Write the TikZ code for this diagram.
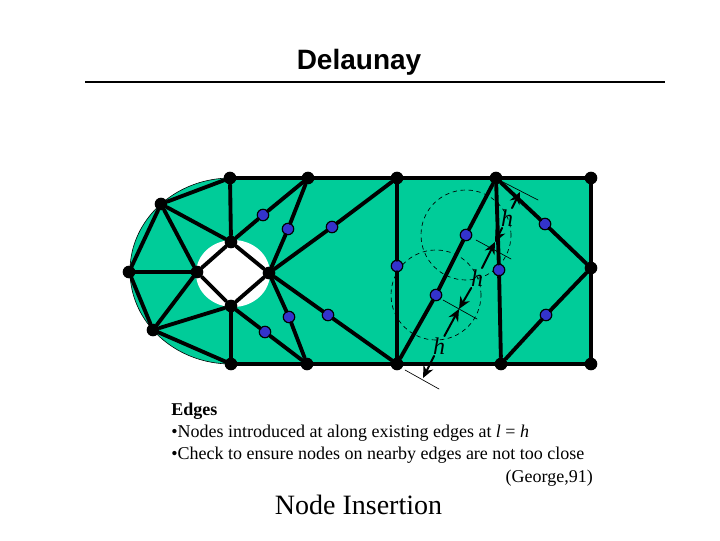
\documentclass[tikz,border=0pt]{standalone}
\usepackage{fontspec}
\usetikzlibrary{arrows.meta}
\setmainfont{Liberation Serif}
\newfontfamily\titlefont{Liberation Sans}
\definecolor{meshgreen}{RGB}{0,204,153}
\definecolor{ptblue}{RGB}{51,51,204}
\begin{document}
\begin{tikzpicture}[x=0.75pt,y=0.75pt,line join=round,line cap=round,>=stealth]
	\tikzset{vtx/.style={circle,fill=black,inner sep=0pt,minimum size=9.5pt},
		bluept/.style={circle,fill=ptblue,draw=black,line width=0.9pt,inner sep=0pt,minimum size=8.6pt},
		edge/.style={line width=2.9pt},
		tick/.style={line width=0.5pt},
		hlabel/.style={font=\fontsize{18}{18}\selectfont\itshape,inner sep=1pt},
		harrow/.style={->,line width=1.5pt,>={Stealth[length=9pt,width=8pt]}},
		txt/.style={font=\fontsize{13.5}{15}\selectfont,inner sep=0pt,anchor=west}}
	\useasboundingbox (0,0) rectangle (720,540);
	% domain
	\fill[meshgreen] (230,362)--(591,362)--(591,176)--(231,176) arc[start angle=270,end angle=90,x radius=101,y radius=93]--cycle;
	\draw[line width=0.45pt] (231,176) arc[start angle=270,end angle=90,x radius=101,y radius=93];
	\fill[white] (233,266.5) ellipse [x radius=37,y radius=33.5];
	% circles of radius h
	\draw[tick,dashed] (466,305) circle (45);
	\draw[tick,dashed] (436,245) circle (45);
	% mesh nodes
	\foreach \nm/\x/\y in {top1/230/362,top2/308/362,top3/397/362,top4/496/362,top5/591/362,
		rmid/591/272,bot5/591/176,bot4/501/176,bot3/397/176,bot2/307/176,bot1/231/176,
		lft1/161/336,lft2/129/268,lft3/153/210,
		ht/231/298,hl/197/268,hr/269/267,hb/231/234}
	\node[vtx] (\nm) at (\x,\y) {};
	\foreach \nm/\x/\y in {p1/263/325,p2/288/311,p3/332/313,p4/289/223,p5/265/208,p6/328/225,
		p7/397/274,p8/466/305,p9/436/245,p10/499/270,p11/545/316,p12/546/225}
	\node[bluept] (\nm) at (\x,\y) {};
	% edges
	\foreach \a/\b in {top1/top2,top2/top3,top3/top4,top4/top5,top5/rmid,rmid/bot5,bot5/bot4,bot4/bot3,bot3/bot2,bot2/bot1,
		top1/lft1,lft1/lft2,lft2/lft3,lft3/bot1,
		lft1/hl,lft2/hl,lft3/hl,lft1/ht,top1/ht,lft3/hb,bot1/hb,
		ht/hl,hl/hb,hb/hr,hr/ht,
		ht/p1,p1/top2,hr/p2,p2/top2,hr/p3,p3/top3,hr/p4,p4/bot2,hb/p5,p5/bot2,hr/p6,p6/bot3,
		top3/p7,p7/bot3,top4/p8,p8/p9,p9/bot3,top4/p10,p10/bot4,top4/p11,p11/rmid,rmid/p12,p12/bot4}
	\draw[edge] (\a)--(\b);
	% spacing marks
	\foreach \nm/\xa/\ya/\xb/\yb in {m0/405/170/439/151,m1/443/240/477/221,m2/476/300/511/281,m3/503/358/538/340}{
		\coordinate (\nm a) at (\xa,\ya);
		\coordinate (\nm b) at (\xb,\yb);
		\draw[tick] (\nm a)--(\nm b);
	}
	\coordinate (e0) at (423,162);
	\coordinate (e1) at (459,231);
	\coordinate (e2) at (495,298);
	\coordinate (e3) at (520,348);
	\node[hlabel] (h1) at (439,194) {h};
	\node[hlabel] (h2) at (477,262) {h};
	\node[hlabel] (h3) at (507,322) {h};
	\draw[harrow] (h1)--(e0);
	\draw[harrow] (h1)--(e1);
	\draw[harrow] (h2)--(e1);
	\draw[harrow] (h2)--(e2);
	\draw[harrow] (h3)--(e2);
	\draw[harrow] (h3)--(e3);
	% text
	\node[font=\titlefont\fontsize{21}{24}\selectfont\bfseries] (title) at (359,478) {Delaunay};
	\coordinate (rulea) at (85,458);
	\coordinate (ruleb) at (665,458);
	\draw[line width=2.2pt,line cap=butt] (rulea)--(ruleb);
	\node[txt,font=\fontsize{13.5}{15}\selectfont\bfseries] (head) at (171,129) {Edges};
	\node[txt] (line1) at (171,107) {•Nodes introduced at along existing edges at \textit{l} = \textit{h}};
	\node[txt] (line2) at (171,85) {•Check to ensure nodes on nearby edges are not too close};
	\node[txt,anchor=east] (cite) at (593,62) {(George,91)};
	\node[font=\fontsize{21}{24}\selectfont] (caption) at (358.5,35) {Node Insertion};
\end{tikzpicture}
\end{document}
